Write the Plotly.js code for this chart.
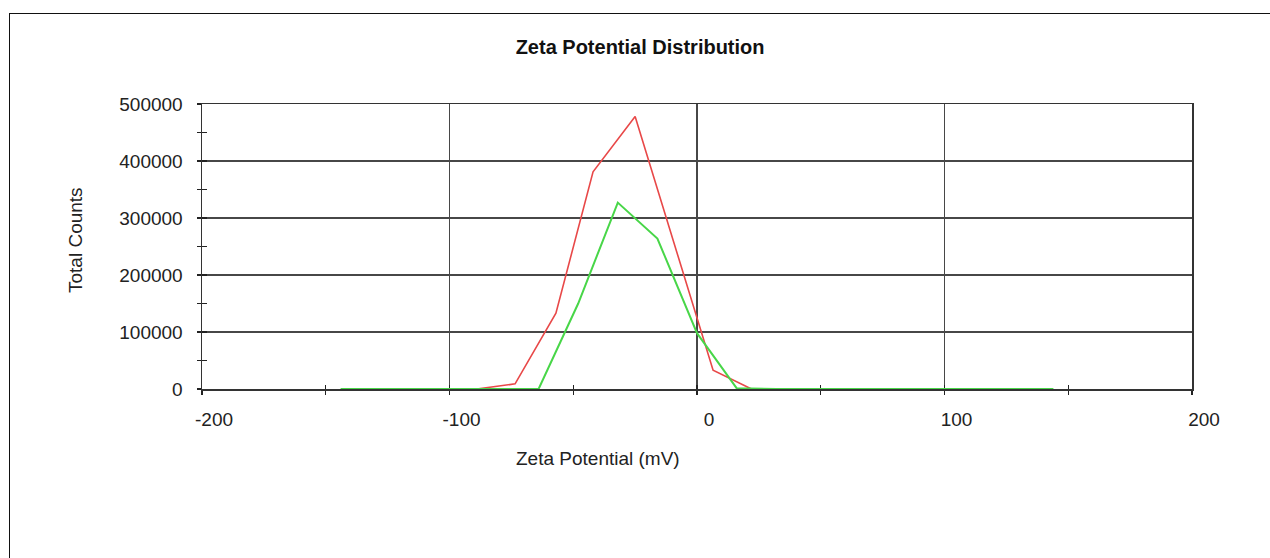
<!DOCTYPE html>
<html>
<head>
<meta charset="utf-8">
<script src="https://cdn.plot.ly/plotly-3.0.1.min.js"></script>
<style>
  html, body { margin: 0; padding: 0; width: 1270px; height: 558px; overflow: hidden; background: #fff; }
  #chart { position: absolute; left: 0; top: 0; width: 1270px; height: 558px; }
  #frame { position: absolute; left: 9px; top: 13px; width: 1300px; height: 600px;
           border-top: 1.5px solid #111; border-left: 1.5px solid #111; pointer-events: none; }
</style>
</head>
<body>
<div id="chart"></div>
<div id="frame"></div>
<script>
// Zeta potential distribution, two runs (mV vs total counts)
const run1Zeta   = [-89, -73.5, -57, -42, -25, -9.5, 6.5, 22];
const run1Counts = [0, 9000, 133000, 381000, 478000, 259000, 33000, 0];

const run2Zeta   = [-144, -128, -112, -96, -80, -64, -48, -32, -16, 0, 16, 32, 48, 64, 80, 96, 112, 128, 144];
const run2Counts = [0, 0, 0, 0, 0, 0, 150000, 327000, 264000, 98000, 1500, 0, 0, 0, 0, 0, 0, 0, 0];

const xTickVals = [-200, -100, 0, 100, 200];
const xTickText = ['-200', '-100', '0', '100', '200'];
const yTickVals = [0, 100000, 200000, 300000, 400000, 500000];
const yTickText = ['0', '100000', '200000', '300000', '400000', '500000'];

const chartTitle = 'Zeta Potential Distribution';
const xTitle = 'Zeta Potential (mV)';
const yTitle = 'Total Counts';

const FONT = '"Liberation Sans", Arial, sans-serif';
const GRID = '#474747';
const TXT = 19;

const traces = [
  { x: run1Zeta, y: run1Counts, type: 'scatter', mode: 'lines',
    line: { color: 'rgb(232,72,72)', width: 1.6 }, showlegend: false, hoverinfo: 'skip' },
  { x: run2Zeta, y: run2Counts, type: 'scatter', mode: 'lines',
    line: { color: 'rgb(72,214,72)', width: 2 }, showlegend: false, hoverinfo: 'skip' },
  // carriers for the inward half of the crossing tick marks
  { x: [], y: [], xaxis: 'x2', yaxis: 'y', type: 'scatter', showlegend: false },
  { x: [], y: [], xaxis: 'x', yaxis: 'y2', type: 'scatter', showlegend: false }
];

const layout = {
  width: 1270, height: 558,
  margin: { l: 202, r: 78, t: 104, b: 169 },
  paper_bgcolor: 'rgba(0,0,0,0)',
  plot_bgcolor: '#fff',
  font: { family: FONT, color: '#222', size: TXT },
  title: { text: chartTitle, x: 0.504, xref: 'container', xanchor: 'center',
           y: 1 - 47 / 558, yref: 'container', yanchor: 'middle',
           font: { family: FONT, size: 20, color: '#111', weight: 'bold' } },
  xaxis: {
    range: [-200, 200], tickvals: xTickVals, ticktext: xTickText,
    showgrid: true, gridcolor: GRID, gridwidth: 1.6, zeroline: false,
    showline: true, linecolor: '#333', linewidth: 1.5, mirror: true,
    ticks: 'outside', ticklen: 4, tickcolor: '#222', tickwidth: 1.4,
    minor: { dtick: 50, tick0: 0, ticks: 'outside', ticklen: 4, tickcolor: '#222', tickwidth: 1.4, showgrid: false },
    ticklabelstandoff: 9, ticklabelshift: 12,
    tickfont: { family: FONT, size: TXT, color: '#222' },
    layer: 'below traces', fixedrange: true
  },
  xaxis2: {
    overlaying: 'x', anchor: 'y', side: 'bottom', range: [-200, 200],
    tickmode: 'linear', tick0: 0, dtick: 50, ticks: 'inside', ticklen: 4,
    tickcolor: '#222', tickwidth: 1.4, showticklabels: false, showgrid: false,
    zeroline: false, showline: false, layer: 'below traces'
  },
  yaxis: {
    range: [0, 500000], tickvals: yTickVals, ticktext: yTickText,
    showgrid: true, gridcolor: GRID, gridwidth: 1.6, zeroline: false,
    showline: true, linecolor: '#333', linewidth: 1.5, mirror: true,
    ticks: 'outside', ticklen: 3, tickcolor: '#222', tickwidth: 1.4,
    minor: { dtick: 50000, tick0: 0, ticks: 'outside', ticklen: 4, tickcolor: '#222', tickwidth: 1.4, showgrid: false },
    ticklabelstandoff: 11,
    tickfont: { family: FONT, size: TXT, color: '#222' },
    layer: 'below traces', fixedrange: true
  },
  yaxis2: {
    overlaying: 'y', anchor: 'x', side: 'left', range: [0, 500000],
    tickmode: 'linear', tick0: 0, dtick: 50000, ticks: 'inside', ticklen: 5,
    tickcolor: '#222', tickwidth: 1.4, showticklabels: false, showgrid: false,
    zeroline: false, showline: false, layer: 'below traces'
  },
  annotations: [
    { text: xTitle, xref: 'paper', yref: 'paper', x: 0.40, y: -69 / 285,
      xanchor: 'center', yanchor: 'middle', showarrow: false,
      font: { family: FONT, size: TXT, color: '#222' } },
    { text: yTitle, xref: 'paper', yref: 'paper', x: -127 / 990, y: 149 / 285,
      xanchor: 'center', yanchor: 'middle', textangle: -90, showarrow: false,
      font: { family: FONT, size: TXT, color: '#222' } }
  ]
};

Plotly.newPlot('chart', traces, layout, { staticPlot: true, displayModeBar: false });
</script>
</body>
</html>
